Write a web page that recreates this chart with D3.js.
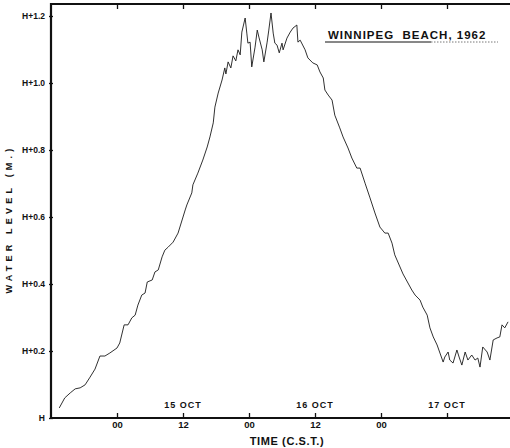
<!DOCTYPE html>
<html>
<head>
<meta charset="utf-8">
<script src="https://cdn.jsdelivr.net/npm/d3@7"></script>
<style>
  body { margin: 0; background: #fff; }
  svg text { font-family: "Liberation Sans", Arial, sans-serif; font-weight: bold; fill: #111; }
</style>
</head>
<body>
<svg id="chart" width="510" height="448"></svg>
<script>
// Water level record, Winnipeg Beach, 14-17 Oct 1962.
// Time in hours from 15 Oct 1962 00:00 C.S.T.; level in metres above datum H.
const hours = [
  -10.5, -9.5, -8.5, -7.6, -6.7, -5.8, -4.9, -4.0, -3.1, -2.2, -1.3, 0.0, 0.5, 1.3, 2.0, 2.7,
  3.3, 3.8, 4.5, 5.1, 5.5, 6.4, 6.9, 7.5, 8.2, 8.7, 9.3, 10.2, 11.1, 12.4, 12.7, 13.6,
  13.8, 14.7, 15.6, 16.4, 16.9, 17.5, 17.8, 18.4, 19.1, 19.6, 19.8, 20.2, 20.7, 21.1, 21.6, 22.0,
  22.4, 22.7, 23.3, 23.6, 23.8, 24.2, 24.5, 25.1, 25.5, 25.8, 26.4, 26.7, 27.3, 27.6, 28.0, 28.4,
  28.7, 29.1, 29.5, 30.0, 30.2, 30.9, 31.5, 32.0, 32.7, 32.9, 33.3, 34.2, 34.7, 35.6, 36.4, 36.9,
  37.5, 37.8, 38.4, 39.1, 39.6, 40.5, 41.1, 42.0, 42.7, 43.6, 44.2, 45.1, 46.0, 46.9, 47.8, 48.7,
  49.3, 50.0, 50.5, 52.0, 53.6, 54.2, 55.1, 55.6, 56.4, 56.9, 57.5, 58.2, 59.3, 59.6, 60.2, 60.5,
  61.1, 61.8, 62.2, 62.7, 63.3, 63.8, 64.5, 65.1, 65.6, 66.0, 66.5, 67.3, 67.8, 68.4, 69.1, 69.6,
  70.0, 70.5, 71.1
];
const level = [
  0.030, 0.060, 0.075, 0.087, 0.090, 0.099, 0.122, 0.146, 0.185, 0.185, 0.194, 0.209, 0.224, 0.278, 0.278, 0.299,
  0.307, 0.337, 0.367, 0.373, 0.406, 0.412, 0.436, 0.442, 0.481, 0.501, 0.510, 0.525, 0.552, 0.621, 0.636, 0.672,
  0.696, 0.731, 0.770, 0.809, 0.839, 0.881, 0.928, 0.970, 1.009, 1.045, 1.027, 1.063, 1.045, 1.081, 1.066, 1.099,
  1.084, 1.152, 1.194, 1.149, 1.119, 1.122, 1.048, 1.107, 1.158, 1.137, 1.099, 1.063, 1.122, 1.158, 1.209, 1.149,
  1.119, 1.113, 1.090, 1.119, 1.099, 1.134, 1.152, 1.164, 1.173, 1.122, 1.128, 1.099, 1.075, 1.060, 1.054, 1.033,
  1.015, 0.979, 0.964, 0.949, 0.904, 0.866, 0.839, 0.806, 0.776, 0.746, 0.746, 0.701, 0.657, 0.612, 0.570, 0.552,
  0.552, 0.522, 0.487, 0.430, 0.382, 0.367, 0.352, 0.331, 0.307, 0.269, 0.242, 0.218, 0.167, 0.182, 0.197, 0.173,
  0.164, 0.203, 0.182, 0.158, 0.197, 0.173, 0.188, 0.173, 0.179, 0.152, 0.212, 0.197, 0.173, 0.233, 0.239, 0.242,
  0.278, 0.269, 0.287
];

const levelTicks  = [0, 0.2, 0.4, 0.6, 0.8, 1.0, 1.2];
const levelLabels = ["H", "H+0.2", "H+0.4", "H+0.6", "H+0.8", "H+1.0", "H+1.2"];
const timeTicks   = [0, 12, 24, 36, 48, 60];
const timeLabels  = ["00", "12", "00", "12", "00", ""];
const dayTicks    = [12, 36, 60];
const dayLabels   = ["15 OCT", "16 OCT", "17 OCT"];
const title       = "WINNIPEG\u00a0\u00a0BEACH, 1962";

const base = Date.UTC(1962, 9, 15, 0, 0);
const toDate = h => new Date(base + h * 3600e3);

const m = { left: 51, right: 510.25, top: 4, bottom: 418 };

const x = d3.scaleUtc().domain([toDate(-12), toDate(71.5)]).range([m.left, m.right]);
const y = d3.scaleLinear().domain([0, 1.2]).range([m.bottom, 16]);

const svg = d3.select("#chart");

// frame: left, top and bottom rules
svg.append("path")
  .attr("fill", "none")
  .attr("stroke", "#111")
  .attr("stroke-width", 2.2)
  .attr("d", `M${m.right + 2},${m.top} H${m.left} V${m.bottom} H${m.right + 2}`);

// bottom axis with inward ticks
const xAxis = d3.axisBottom(x)
  .tickValues(timeTicks.map(toDate))
  .tickSize(-5)
  .tickPadding(6)
  .tickFormat((d, i) => timeLabels[i]);
const gx = svg.append("g").attr("transform", `translate(0,${m.bottom})`).call(xAxis);
gx.select(".domain").remove();
gx.selectAll(".tick line").attr("stroke", "#111").attr("stroke-width", 1.3);
gx.selectAll(".tick text").attr("font-size", 9.5).attr("dy", "0.45em");

// top rule ticks, pointing inward
const xTop = d3.axisTop(x)
  .tickValues(timeTicks.map(toDate))
  .tickSize(-5)
  .tickFormat("");
const gt = svg.append("g").attr("transform", `translate(0,${m.top})`).call(xTop);
gt.select(".domain").remove();
gt.selectAll(".tick line").attr("stroke", "#111").attr("stroke-width", 1.3);

// left axis
const yAxis = d3.axisLeft(y)
  .tickValues(levelTicks)
  .tickSize(4)
  .tickPadding(4)
  .tickFormat((d, i) => levelLabels[i]);
const gy = svg.append("g").attr("transform", `translate(${m.left + 2},0)`).call(yAxis);
gy.select(".domain").remove();
gy.selectAll(".tick line").attr("stroke", "#111").attr("stroke-width", 1.3);
gy.selectAll(".tick text").attr("font-size", 8.5);

// day labels above the time axis
svg.append("g").selectAll("text")
  .data(dayTicks)
  .join("text")
  .attr("x", d => x(toDate(d)))
  .attr("y", 408)
  .attr("text-anchor", "middle")
  .attr("font-size", 9)
  .attr("letter-spacing", 1)
  .text((d, i) => dayLabels[i]);

// water level trace
const series = hours.map((h, i) => ({ t: toDate(h), v: level[i] }));
svg.append("path")
  .datum(series)
  .attr("fill", "none")
  .attr("stroke", "#1a1a1a")
  .attr("stroke-width", 0.9)
  .attr("stroke-linejoin", "round")
  .attr("d", d3.line().x(d => x(d.t)).y(d => y(d.v)));

// title with underline
svg.append("text")
  .attr("x", 328).attr("y", 38.5)
  .attr("font-size", 11.5)
  .attr("font-weight", "normal")
  .attr("letter-spacing", 1)
  .text(title);
svg.append("line")
  .attr("x1", 325).attr("x2", 431).attr("y1", 42).attr("y2", 42)
  .attr("stroke", "#111").attr("stroke-width", 1);
svg.append("line")
  .attr("x1", 431).attr("x2", 498).attr("y1", 42).attr("y2", 42)
  .attr("stroke", "#555").attr("stroke-width", 0.8).attr("stroke-dasharray", "1.5,1.5");

// axis titles
svg.append("text")
  .attr("transform", "translate(12,219) rotate(-90)")
  .attr("text-anchor", "middle")
  .attr("font-size", 9)
  .attr("letter-spacing", 4.2)
  .text("WATER LEVEL (M.)");

svg.append("text")
  .attr("x", 287).attr("y", 445)
  .attr("text-anchor", "middle")
  .attr("font-size", 11)
  .attr("letter-spacing", 0.6)
  .text("TIME (C.S.T.)");
</script>
</body>
</html>
